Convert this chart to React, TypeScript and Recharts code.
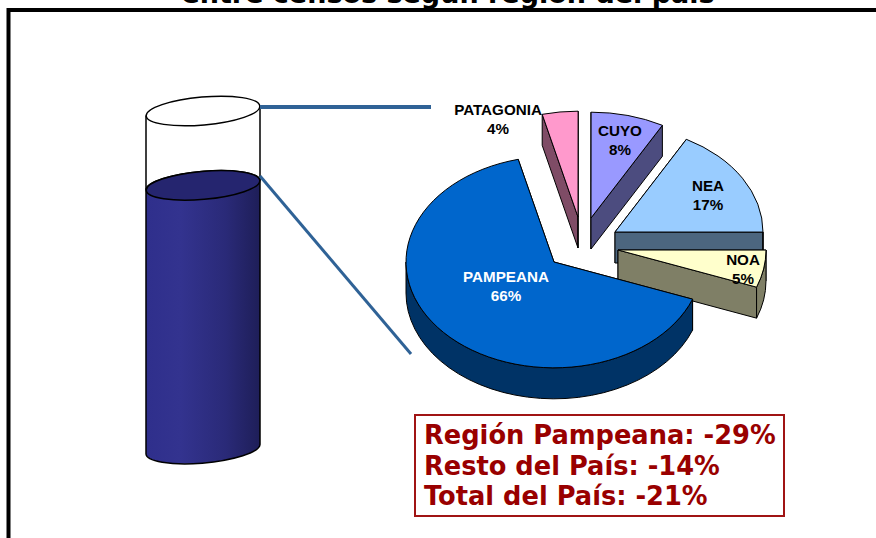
import React from 'react'
import { Bar, BarChart, Pie, PieChart, XAxis, YAxis } from 'recharts'

const W = 876
const H = 538

// clockwise from the top, so Pampeana is painted last like in the picture
const regions = ['PATAGONIA', 'CUYO', 'NEA', 'NOA', 'PAMPEANA']
const printedShares = ['4%', '8%', '17%', '5%', '66%']
// slice sizes as drawn, the printed labels are rounded differently
const sliceShares = [3.9, 8.0, 17.0, 5.7, 65.4]
const topColors = ['#ff99cc', '#9999ff', '#99ccff', '#ffffcc', '#0066cc']
const wallColors = ['#7f4c66', '#4c4c7f', '#4c667f', '#7f7f66', '#003366']

const cylinderName = ['Total del País']
const cylinderFilled = [78]
const cylinderEmpty = [22]

const summaryLines = ['Región Pampeana: -29%', 'Resto del País: -14%', 'Total del País: -21%']

const pieData = regions.map((name, i) => ({
  name,
  value: sliceShares[i],
  printed: printedShares[i],
  fill: topColors[i],
  wall: wallColors[i],
}))
const cylinderData = cylinderName.map((name, i) => ({
  name,
  filled: cylinderFilled[i],
  empty: cylinderEmpty[i],
}))

// 3d look of the pie
const SQUASH = 0.715
const DEPTH = 31
const explode: Record<string, [number, number]> = {
  PATAGONIA: [24, -45],
  CUYO: [37, -44],
  NEA: [61, -30],
  NOA: [64, -12],
  PAMPEANA: [0, 0],
}
// label centre relative to the pie centre
const labelAt: Record<string, [number, number]> = {
  PATAGONIA: [-56, -147],
  CUYO: [66, -126],
  NEA: [154, -71],
  NOA: [189, 3],
  PAMPEANA: [-48, 20],
}

function Slice3D(props: any) {
  const { cx, cy, outerRadius, startAngle, endAngle, fill, payload } = props
  const [dx, dy] = explode[payload.name]
  const rx = outerRadius
  const ry = outerRadius * SQUASH
  const ox = cx + dx
  const oy = cy + dy
  const hi = Math.max(startAngle, endAngle)
  const lo = Math.min(startAngle, endAngle)
  const px = (a: number) => ox + rx * Math.cos((a * Math.PI) / 180)
  const py = (a: number) => oy - ry * Math.sin((a * Math.PI) / 180)
  const large = hi - lo > 180 ? 1 : 0
  const edge = { stroke: '#000', strokeWidth: 1, strokeLinejoin: 'round' as const, fill: payload.wall }

  // outer wall only where the rim faces the viewer (lower half)
  const walls: React.ReactNode[] = []
  for (const turn of [0, -360]) {
    const a = Math.max(lo, 180 + turn)
    const b = Math.min(hi, 360 + turn)
    if (b > a) {
      const big = b - a > 180 ? 1 : 0
      walls.push(
        <path
          key={turn}
          {...edge}
          d={`M${px(b)},${py(b)} A${rx},${ry} 0 ${big} 1 ${px(a)},${py(a)} L${px(a)},${py(a) + DEPTH} A${rx},${ry} 0 ${big} 0 ${px(b)},${py(b) + DEPTH} Z`}
        />,
      )
    }
  }

  return (
    <g>
      {[hi, lo].map((a) => (
        <path
          key={a}
          {...edge}
          d={`M${ox},${oy} L${px(a)},${py(a)} L${px(a)},${py(a) + DEPTH} L${ox},${oy + DEPTH} Z`}
        />
      ))}
      {walls}
      <path
        d={`M${ox},${oy} L${px(hi)},${py(hi)} A${rx},${ry} 0 ${large} 1 ${px(lo)},${py(lo)} Z`}
        fill={fill}
        stroke="#000"
        strokeWidth={1}
        strokeLinejoin="round"
      />
    </g>
  )
}

function sliceLabel(props: any) {
  const { cx, cy, name, payload } = props
  const [dx, dy] = labelAt[name]
  return (
    <text
      x={cx + dx}
      y={cy + dy}
      textAnchor="middle"
      fontFamily="Liberation Sans"
      fontWeight="bold"
      fontSize={15.2}
      fill={name === 'PAMPEANA' ? '#fff' : '#000'}
    >
      <tspan x={cx + dx}>{name}</tspan>
      <tspan x={cx + dx} dy={19}>
        {payload.printed}
      </tspan>
    </text>
  )
}

const TILT = -5
const RY = 14

function cylinderEnd(x: number, w: number, y: number) {
  return { left: y + 4.5, right: y - 4.5, mid: x + w / 2, rx: w / 2 }
}

function FilledPart(props: any) {
  const { x, y, width, height } = props
  const top = cylinderEnd(x, width, y)
  const bottom = cylinderEnd(x, width, y + height)
  return (
    <g>
      <path
        d={`M${x},${top.left} A${top.rx},${RY} ${TILT} 0 1 ${x + width},${top.right} L${x + width},${bottom.right} A${bottom.rx},${RY} ${TILT} 0 1 ${x},${bottom.left} Z`}
        fill="url(#cylinderBody)"
        stroke="#000"
        strokeWidth={1.5}
      />
      <ellipse
        cx={top.mid}
        cy={y}
        rx={top.rx}
        ry={RY}
        transform={`rotate(${TILT} ${top.mid} ${y})`}
        fill="#25256f"
        stroke="#000"
        strokeWidth={1.5}
      />
    </g>
  )
}

function EmptyPart(props: any) {
  const { x, y, width, height } = props
  const top = cylinderEnd(x, width, y)
  const bottom = cylinderEnd(x, width, y + height)
  return (
    <g>
      <path
        d={`M${x},${top.left} L${x},${bottom.left} M${x + width},${top.right} L${x + width},${bottom.right}`}
        stroke="#000"
        strokeWidth={1.5}
        fill="none"
      />
      <ellipse
        cx={top.mid}
        cy={y}
        rx={top.rx}
        ry={RY}
        transform={`rotate(${TILT} ${top.mid} ${y})`}
        fill="#fff"
        stroke="#000"
        strokeWidth={1.5}
      />
    </g>
  )
}

export default function App() {
  return (
    <div style={{ position: 'absolute', left: 0, top: 0, width: W, height: H, overflow: 'hidden', background: '#fff' }}>
      <svg width={W} height={H} style={{ position: 'absolute', left: 0, top: 0 }}>
        <text
          x={448}
          y={3}
          textAnchor="middle"
          fontFamily="DejaVu Sans"
          fontWeight="bold"
          fontSize={27}
          fill="#000"
        >
          entre censos según región del país
        </text>
        <path d="M8.5,538 L8.5,10 L876,10" fill="none" stroke="#000" strokeWidth={4} />
      </svg>

      <div style={{ position: 'absolute', left: 0, top: 0 }}>
        <PieChart width={W} height={H} margin={{ top: 0, right: 0, bottom: 0, left: 0 }}>
          <Pie
            data={pieData}
            dataKey="value"
            nameKey="name"
            cx={554}
            cy={262}
            outerRadius={148}
            startAngle={104}
            endAngle={-256}
            stroke="none"
            shape={Slice3D}
            label={sliceLabel}
            labelLine={false}
            isAnimationActive={false}
          />
        </PieChart>
      </div>

      <div style={{ position: 'absolute', left: 103, top: 60 }}>
        <BarChart
          width={200}
          height={440}
          data={cylinderData}
          margin={{ top: 51, right: 0, bottom: 51, left: 0 }}
        >
          <defs>
            <linearGradient id="cylinderBody" x1="0" y1="0" x2="1" y2="0">
              <stop offset="0%" stopColor="#2f2f8c" />
              <stop offset="30%" stopColor="#33338f" />
              <stop offset="70%" stopColor="#2a2a78" />
              <stop offset="100%" stopColor="#1e1e58" />
            </linearGradient>
          </defs>
          <XAxis dataKey="name" hide />
          <YAxis hide domain={[0, 100]} />
          <Bar dataKey="filled" stackId="a" barSize={114} shape={FilledPart} isAnimationActive={false} />
          <Bar dataKey="empty" stackId="a" barSize={114} shape={EmptyPart} isAnimationActive={false} />
        </BarChart>
      </div>

      <svg width={W} height={H} style={{ position: 'absolute', left: 0, top: 0, pointerEvents: 'none' }}>
        <path d="M260,107 L431,107" stroke="#2f6296" strokeWidth={4} fill="none" />
        <path d="M260,176 L411,354" stroke="#2f6296" strokeWidth={3} fill="none" />
      </svg>

      <div
        style={{
          position: 'absolute',
          left: 414,
          top: 414,
          width: 367,
          height: 95,
          paddingTop: 4,
          border: '2px solid #a01414',
          background: '#fff',
          color: '#990000',
          fontFamily: 'DejaVu Sans',
          fontWeight: 'bold',
          fontSize: 25.7,
          lineHeight: '30.5px',
        }}
      >
        {summaryLines.map((line) => (
          <div key={line} style={{ marginLeft: 8, whiteSpace: 'nowrap' }}>
            {line}
          </div>
        ))}
      </div>
    </div>
  )
}
